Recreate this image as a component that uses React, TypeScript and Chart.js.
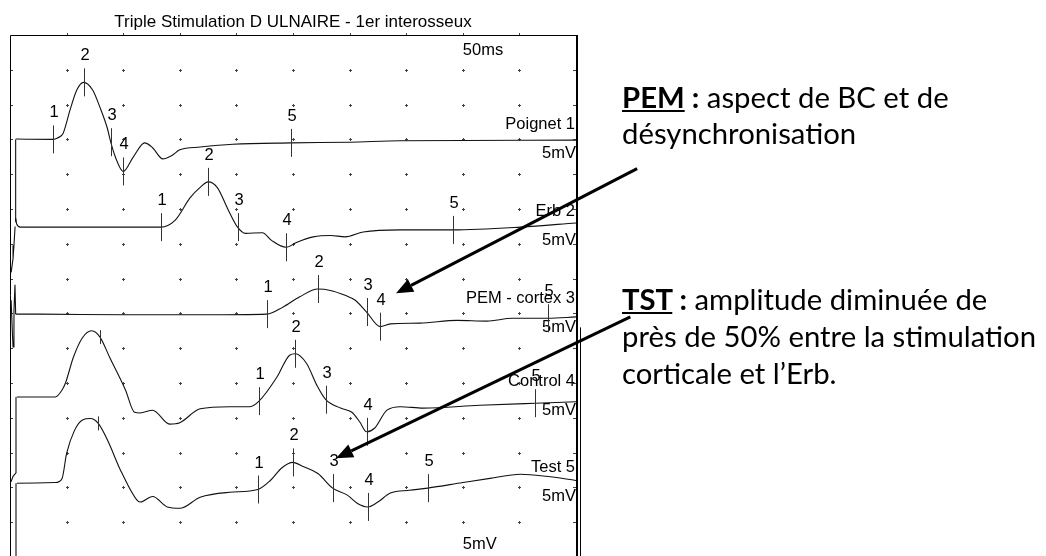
import React, { useEffect, useRef } from "react";
import { Chart, registerables } from "chart.js";

Chart.register(...registerables);

// ---------- chart constants ----------
const TITLE = "Triple Stimulation D ULNAIRE - 1er interosseux";
const SWEEP_LABEL = "50ms";
const GAIN_LABEL = "5mV";
const SWEEP_MS = 50;
const MS_PER_DIV = 5;
const MV_PER_DIV = 5;
const VISIBLE_DIVS = 14.97;

// ---------- channels ----------
const channelNames = ["Poignet 1", "Erb 2", "PEM - cortex 3", "Control 4", "Test 5"];
const channelOffsets = [-15.1, -27.6, -40.1, -52.0, -64.4]; // mV, baseline of each trace

// trace 1 : Poignet
const poignetT = [0.5, 3.8, 4.2, 4.7, 5.3, 5.9, 6.5, 7.3, 7.95, 8.6, 8.9, 9.3, 10.0, 10.9, 11.9, 12.6, 13.5, 14.3, 15.0, 16.8, 19.7, 24.8, 30.0, 34.5, 50.0];
const poignetV = [0.15, 0.1, 0.3, 1.0, 4.3, 7.2, 8.3, 7.2, 4.7, 1.7, -0.3, -2.4, -4.5, -2.4, -0.4, -1.1, -2.7, -2.2, -1.4, -1.0, -0.6, -0.4, -0.3, -0.1, 0.0];
const poignetMarks = [3.8, 6.5, 8.9, 10.0, 24.8];

// trace 2 : Erb
const erbT = [0.5, 0.6, 0.9, 13.3, 14.6, 15.9, 16.8, 17.5, 18.3, 19.3, 20.1, 20.8, 22.3, 23.1, 24.4, 25.3, 26.8, 28.3, 29.6, 31.2, 34.5, 39.1, 45.1, 50.0];
const erbV = [1.3, 0.4, 0, 0, 1.0, 4.2, 5.7, 6.5, 5.7, 2.4, 0, -0.9, -0.8, -1.9, -2.9, -2.2, -1.4, -1.2, -1.4, -0.7, -0.4, -0.4, 0, 0.6];
const erbMarks = [13.3, 17.5, 20.1, 24.4, 39.1];

// trace 3 : PEM - cortex
const pemT = [0.5, 2.6, 10.0, 17.0, 22.7, 24.1, 25.6, 27.2, 28.3, 29.6, 30.5, 31.5, 32.7, 33.6, 36.2, 39.5, 42.1, 44.4, 47.5, 50.0];
const pemV = [0, 0, -0.1, -0.1, 0, 1.0, 2.5, 3.6, 3.4, 2.7, 2.0, 0.3, -1.8, -1.4, -1.3, -0.9, -1.0, -0.6, -0.6, -0.4];
const pemMarks = [22.7, 27.2, 31.5, 32.7, 47.5];

// trace 4 : Control
const controlT = [0.6, 4.0, 4.6, 4.9, 5.6, 6.4, 7.2, 7.95, 8.8, 10.2, 11.0, 11.5, 12.6, 14.1, 15.0, 16.8, 19.4, 21.2, 22.0, 23.6, 24.7, 25.2, 26.2, 27.1, 27.9, 29.2, 30.2, 30.9, 31.5, 32.2, 33.3, 34.5, 36.5, 41.5, 46.4, 50.0];
const controlV = [0, 0, 1.0, 2.0, 5.7, 8.5, 9.5, 8.6, 5.7, 1.0, -2.2, -2.3, -1.9, -3.9, -3.7, -1.7, -1.4, -1.4, -0.6, 2.9, 6.0, 6.2, 4.8, 1.7, -0.4, -1.6, -2.2, -3.6, -5.0, -4.5, -1.9, -1.4, -1.6, -1.2, -0.9, -0.7];
const controlMarks = [22.0, 25.2, 27.9, 31.5, 46.4];

// trace 5 : Test
const testT = [0.6, 4.0, 4.6, 5.0, 5.7, 6.4, 7.1, 7.8, 8.7, 9.7, 11.2, 11.5, 12.6, 13.9, 15.0, 16.8, 19.4, 21.9, 23.0, 24.0, 25.0, 25.9, 27.2, 28.5, 29.8, 30.7, 31.6, 32.5, 33.6, 35.3, 36.9, 40.0, 42.4, 45.1, 47.4, 50.0];
const testV = [0, 0.1, 0.7, 4.3, 7.6, 9.1, 9.3, 8.6, 5.9, 2.1, -2.4, -2.7, -1.9, -3.4, -3.6, -2.0, -1.3, -0.9, 0.4, 2.2, 3.0, 2.4, 1.4, -0.7, -1.7, -2.9, -3.4, -2.7, -1.4, -1.0, -0.7, 0.1, 0.7, 1.3, 1.0, 0.4];
const testMarks = [21.9, 25.0, 28.5, 31.6, 36.9];

const markLabels = ["1", "2", "3", "4", "5"];
// small unlabeled cursor ticks (trace index, time)
const extraTickTrace = [3, 4];
const extraTickTime = [7.95, 7.8];

// stimulus artifacts (relative to each trace baseline)
const artifactT = [
  [0.5, 0.5],
  [0.45, 0.35, 0.27, 0.1],
  [0.1, 0.2, 0.27, 0.35, 0.44, 0.5],
  [0.53, 0.53, 0.27, 0.09],
  [0.53, 0.53],
];
const artifactV = [
  [0.1, -11.8],
  [0.1, -2.6, -4.5, -6.5],
  [2.0, -2.3, -4.7, 0.5, 4.2, 0],
  [0, -10.9, -11.4, -12.2],
  [0, -10.6],
];

// annotation arrows: tail (ms, mV) -> tip (ms, mV)
const arrowTailT = [55.4, 54.8];
const arrowTailV = [-19.2, -40.5];
const arrowTipT = [34.1, 28.8];
const arrowTipV = [-37.1, -60.8];

const traceT = [poignetT, erbT, pemT, controlT, testT];
const traceV = [poignetV, erbV, pemV, controlV, testV];
const traceMarks = [poignetMarks, erbMarks, pemMarks, controlMarks, testMarks];

const FONT = '16.5px "Liberation Sans", Arial, sans-serif';
const TITLE_FONT = '17px "Liberation Sans", Arial, sans-serif';

function valueAt(ts: number[], vs: number[], t: number): number {
  for (let i = 0; i < ts.length; i++) if (Math.abs(ts[i] - t) < 1e-6) return vs[i];
  for (let i = 0; i < ts.length - 1; i++) {
    if (t >= ts[i] && t <= ts[i + 1]) {
      const f = (t - ts[i]) / (ts[i + 1] - ts[i]);
      return vs[i] + f * (vs[i + 1] - vs[i]);
    }
  }
  return vs[vs.length - 1];
}

const ekgPlugin = {
  id: "ekgDecor",
  beforeDatasetsDraw(chart: any) {
    const { ctx, chartArea: a, scales } = chart;
    const xs = scales.x, ys = scales.y;
    ctx.save();
    // grid dots
    ctx.fillStyle = "#444";
    const nCols = SWEEP_MS / MS_PER_DIV;
    const nRows = Math.floor(VISIBLE_DIVS);
    for (let k = 1; k < nCols; k++) {
      const x = Math.round(xs.getPixelForValue(k * MS_PER_DIV));
      for (let j = 1; j <= nRows; j++) {
        const y = Math.round(ys.getPixelForValue(-j * MV_PER_DIV));
        ctx.fillRect(x - 1, y, 3, 1);
        ctx.fillRect(x, y - 1, 1, 3);
      }
      // top border ticks
      ctx.fillRect(x, Math.round(a.top) - 2, 1, 3);
    }
    for (let j = 1; j <= nRows; j++) {
      const y = Math.round(ys.getPixelForValue(-j * MV_PER_DIV));
      ctx.fillRect(Math.round(a.left), y, 3, 1);
      ctx.fillRect(Math.round(a.right) - 3, y, 3, 1);
    }
    // frame
    ctx.strokeStyle = "#000";
    ctx.lineWidth = 1;
    ctx.beginPath();
    ctx.moveTo(a.left + 0.5, a.bottom);
    ctx.lineTo(a.left + 0.5, a.top + 0.5);
    ctx.lineTo(a.right + 1, a.top + 0.5);
    ctx.stroke();
    ctx.lineWidth = 2;
    ctx.beginPath();
    ctx.moveTo(a.right + 1, a.top);
    ctx.lineTo(a.right + 1, a.bottom);
    ctx.stroke();
    ctx.lineWidth = 1;
    ctx.beginPath();
    ctx.moveTo(a.right + 4.5, ys.getPixelForValue(-42));
    ctx.lineTo(a.right + 4.5, a.bottom);
    ctx.stroke();
    ctx.restore();
  },
  afterDatasetsDraw(chart: any) {
    const { ctx, chartArea: a, scales } = chart;
    const xs = scales.x, ys = scales.y;
    ctx.save();
    ctx.fillStyle = "#000";
    // title
    ctx.font = TITLE_FONT;
    ctx.textAlign = "center";
    ctx.textBaseline = "alphabetic";
    ctx.fillText(TITLE, (a.left + a.right) / 2, a.top - 8);
    ctx.font = FONT;
    // sweep label
    ctx.textAlign = "left";
    ctx.fillText(SWEEP_LABEL, xs.getPixelForValue(40), a.top + 20);
    ctx.fillText(GAIN_LABEL, xs.getPixelForValue(40), a.bottom - 7);
    // channel labels
    ctx.textAlign = "right";
    channelNames.forEach((name, i) => {
      const yb = ys.getPixelForValue(channelOffsets[i]);
      ctx.fillText(name, a.right - 1, yb - 11);
      ctx.fillText(GAIN_LABEL, a.right, yb + 18);
    });
    // cursors
    ctx.strokeStyle = "#333";
    ctx.lineWidth = 1;
    ctx.textAlign = "center";
    traceMarks.forEach((marks, i) => {
      marks.forEach((t, m) => {
        const v = valueAt(traceT[i], traceV[i], t);
        const x = Math.round(xs.getPixelForValue(t)) + 0.5;
        const y = ys.getPixelForValue(channelOffsets[i] + v);
        ctx.beginPath();
        ctx.moveTo(x, y - 14);
        ctx.lineTo(x, y + 14);
        ctx.stroke();
        ctx.fillText(markLabels[m], x + 0.5, y - 22);
      });
    });
    extraTickTrace.forEach((ti, k) => {
      const t = extraTickTime[k];
      const v = valueAt(traceT[ti], traceV[ti], t);
      const x = Math.round(xs.getPixelForValue(t)) + 0.5;
      const y = ys.getPixelForValue(channelOffsets[ti] + v);
      ctx.beginPath();
      ctx.moveTo(x, y - 7);
      ctx.lineTo(x, y + 7);
      ctx.stroke();
    });
    // arrows
    ctx.strokeStyle = "#000";
    ctx.fillStyle = "#000";
    ctx.lineWidth = 3;
    arrowTipT.forEach((tt, i) => {
      const x0 = xs.getPixelForValue(arrowTailT[i]);
      const y0 = ys.getPixelForValue(arrowTailV[i]);
      const x1 = xs.getPixelForValue(tt);
      const y1 = ys.getPixelForValue(arrowTipV[i]);
      const ang = Math.atan2(y1 - y0, x1 - x0);
      const L = 17, W = 7;
      const bx = x1 - L * Math.cos(ang), by = y1 - L * Math.sin(ang);
      ctx.beginPath();
      ctx.moveTo(x0, y0);
      ctx.lineTo(bx, by);
      ctx.stroke();
      ctx.beginPath();
      ctx.moveTo(x1, y1);
      ctx.lineTo(bx + W * Math.sin(ang), by - W * Math.cos(ang));
      ctx.lineTo(bx - W * Math.sin(ang), by + W * Math.cos(ang));
      ctx.closePath();
      ctx.fill();
    });
    ctx.restore();
  },
};

export default function App() {
  const ref = useRef<HTMLCanvasElement>(null);
  useEffect(() => {
    const canvas = ref.current;
    if (!canvas) return;
    const datasets: any[] = [];
    traceT.forEach((ts, i) => {
      datasets.push({
        label: channelNames[i],
        data: ts.map((t, j) => ({ x: t, y: channelOffsets[i] + traceV[i][j] })),
        borderColor: "#111",
        borderWidth: 1.1,
        pointRadius: 0,
        cubicInterpolationMode: "monotone",
        fill: false,
      });
    });
    artifactT.forEach((ts, i) => {
      datasets.push({
        label: "artifact " + (i + 1),
        data: ts.map((t, j) => ({ x: t, y: channelOffsets[i] + artifactV[i][j] })),
        borderColor: "#111",
        borderWidth: 1.1,
        pointRadius: 0,
        tension: 0,
        fill: false,
      });
    });
    const chart = new Chart(canvas, {
      type: "line",
      data: { datasets },
      options: {
        responsive: false,
        maintainAspectRatio: false,
        animation: false,
        devicePixelRatio: 1,
        layout: { padding: { left: 10, top: 35, right: 470, bottom: 0 } },
        scales: {
          x: { type: "linear", min: 0, max: SWEEP_MS, display: false },
          y: { type: "linear", min: -VISIBLE_DIVS * MV_PER_DIV, max: 0, display: false },
        },
        plugins: { legend: { display: false }, tooltip: { enabled: false }, title: { display: false } },
      },
      plugins: [ekgPlugin],
    } as any);
    return () => chart.destroy();
  }, []);

  const textStyle: React.CSSProperties = {
    position: "absolute",
    left: 622,
    fontFamily: "Lato, 'Open Sans', sans-serif",
    fontSize: 29.3,
    color: "#000",
    whiteSpace: "nowrap",
  };

  return (
    <div style={{ position: "fixed", left: 0, top: 0, width: 1046, height: 556, background: "#fff", overflow: "hidden" }}>
      <canvas ref={ref} width={1046} height={556} style={{ position: "absolute", left: 0, top: 0, width: 1046, height: 556 }} />
      <div style={{ ...textStyle, top: 79, lineHeight: "36px" }}>
        <span style={{ fontWeight: 700, textDecoration: "underline" }}>PEM</span>
        <span style={{ fontWeight: 700 }}> :</span> aspect de BC et de
        <br />
        désynchronisation
      </div>
      <div style={{ ...textStyle, top: 280, lineHeight: "37px" }}>
        <span style={{ fontWeight: 700, textDecoration: "underline" }}>TST</span>
        <span style={{ fontWeight: 700 }}> :</span> amplitude diminuée de
        <br />
        près de 50% entre la stimulation
        <br />
        corticale et l’Erb.
      </div>
    </div>
  );
}
